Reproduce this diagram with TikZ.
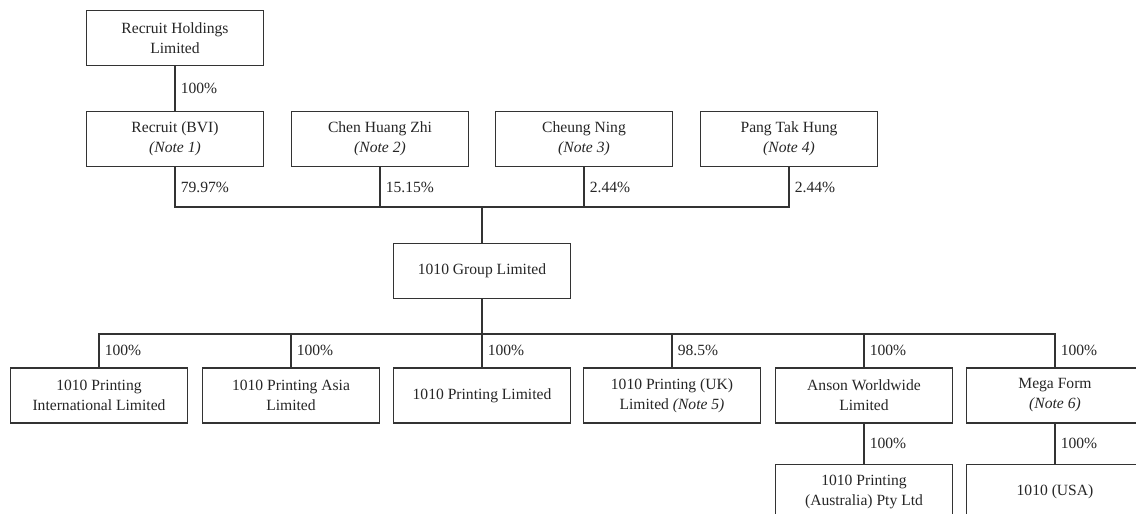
\documentclass[tikz,border=0pt]{standalone}
\usepackage{fontspec}
\setmainfont{Liberation Serif}
\usetikzlibrary{positioning}

\tikzset{
  entity/.style={draw=black!80, line width=1.6pt, fill=white, minimum width=177pt, minimum height=55pt, align=center, inner sep=2pt, font=\fontsize{15.6}{20}\selectfont, text=black!85},
  pct/.style={anchor=west, inner sep=5pt, font=\fontsize{15.6}{18}\selectfont, text=black!85},
  link/.style={draw=black!80, line width=1.6pt}
}

\begin{document}
\begin{tikzpicture}[x=1pt,y=-1pt]
\useasboundingbox (0,0) rectangle (1136,514);
% shareholders
\node[entity] (holdings) at (175,38) {Recruit Holdings\\Limited};
\node[entity] (bvi) at (175,139) {Recruit (BVI)\\\textit{(Note 1)}};
\node[entity] (chen) at (380,139) {Chen Huang Zhi\\\textit{(Note 2)}};
\node[entity] (cheung) at (584,139) {Cheung Ning\\\textit{(Note 3)}};
\node[entity] (pang) at (789,139) {Pang Tak Hung\\\textit{(Note 4)}};
\node[entity] (group) at (482,271) {1010 Group Limited};
% subsidiaries
\node[entity] (intl) at (99,395.5) {1010 Printing\\International Limited};
\node[entity] (asia) at (291,395.5) {1010 Printing Asia\\Limited};
\node[entity] (ltd) at (482,395.5) {1010 Printing Limited};
\node[entity] (uk) at (672,395.5) {1010 Printing (UK)\\Limited \textit{(Note 5)}};
\node[entity] (anson) at (864,395.5) {Anson Worldwide\\Limited};
\node[entity] (mega) at (1055,395.5) {Mega Form\\\textit{(Note 6)}};
\node[entity] (aus) at (864,492) {1010 Printing\\(Australia) Pty Ltd};
\node[entity] (usa) at (1055,492) {1010 (USA)};

\coordinate (topbus) at (482,207);
\coordinate (lowbus) at (482,334);

\draw[link] (holdings) -- node[pct]{100\%} (bvi);
\draw[link] (bvi.south) |- node[pct,pos=0.25]{79.97\%} (topbus);
\draw[link] (chen.south) |- node[pct,pos=0.25]{15.15\%} (topbus);
\draw[link] (cheung.south) |- node[pct,pos=0.25]{2.44\%} (topbus);
\draw[link] (pang.south) |- node[pct,pos=0.25]{2.44\%} (topbus);
\draw[link] (topbus) -- (group.north);

\draw[link] (group.south) -- (lowbus);
\draw[link] (lowbus) -| node[pct,pos=0.75]{100\%} (intl.north);
\draw[link] (lowbus) -| node[pct,pos=0.75]{100\%} (asia.north);
\draw[link] (lowbus) -- node[pct]{100\%} (ltd.north);
\draw[link] (lowbus) -| node[pct,pos=0.75]{98.5\%} (uk.north);
\draw[link] (lowbus) -| node[pct,pos=0.75]{100\%} (anson.north);
\draw[link] (lowbus) -| node[pct,pos=0.75]{100\%} (mega.north);
\draw[link] (anson) -- node[pct]{100\%} (aus);
\draw[link] (mega) -- node[pct]{100\%} (usa);
\end{tikzpicture}
\end{document}
